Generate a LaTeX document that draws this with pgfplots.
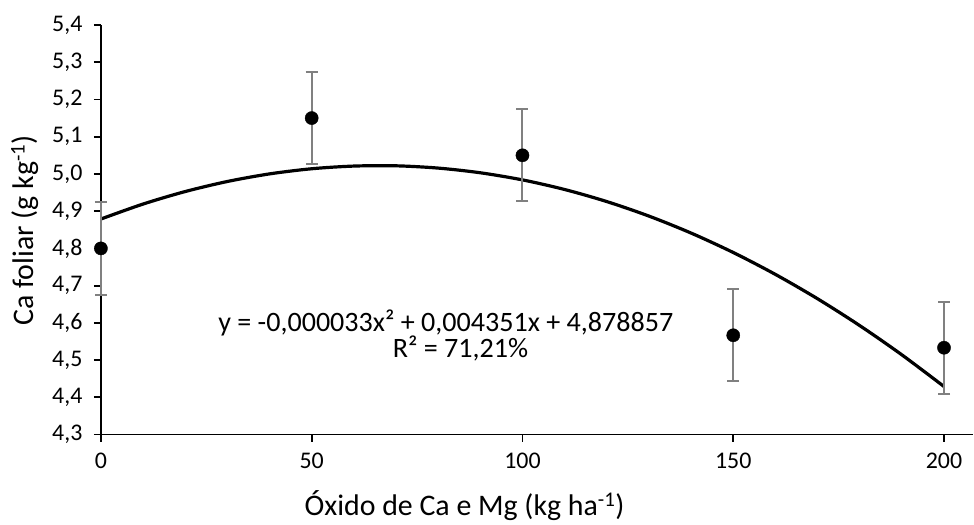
\documentclass[border=0pt]{standalone}
\usepackage{pgfplots}
\pgfplotsset{compat=1.18}
\usepackage{fontspec}
\setmainfont{Carlito}
\begin{document}
\begin{tikzpicture}
\begin{axis}[
  scale only axis,
  width=873bp, height=410bp,
  xmin=0, xmax=206.9, ymin=4.3, ymax=5.4,
  clip=false,
  axis x line=bottom, axis y line=left,
  axis line style={-, black, line width=1.8bp},
  xtick={0,50,100,150,200},
  ytick={4.3,4.4,4.5,4.6,4.7,4.8,4.9,5.0,5.1,5.2,5.3,5.4},
  tick align=outside,
  major tick length=7bp,
  tick style={black, line width=1.8bp},
  /pgf/number format/assume math mode=true,
  yticklabel style={/pgf/number format/fixed, /pgf/number format/fixed zerofill,
    /pgf/number format/precision=1, /pgf/number format/use comma,
    font=\fontsize{24}{28}\selectfont, xshift=-8bp},
  xticklabel style={font=\fontsize{24}{28}\selectfont, yshift=-8bp},
  xlabel={Óxido de Ca e Mg (kg ha\textsuperscript{-1})},
  ylabel={Ca foliar (g kg\textsuperscript{-1})},
  xlabel style={font=\fontsize{30}{35}\selectfont, at={(axis description cs:0.417,0)}, anchor=base, yshift=-81bp},
  ylabel style={font=\fontsize{30}{35}\selectfont, at={(axis description cs:-0.087,0.498)}, anchor=center},
]
% trendline (values of the fitted quadratic read at x = 0,10,...,200)
\addplot[black, line width=3.2bp, smooth, no marks] coordinates {
  (0,4.8789) (10,4.9191) (20,4.9527) (30,4.9797) (40,5.0001) (50,5.0139)
  (60,5.0211) (70,5.0218) (80,5.0157) (90,5.0031) (100,4.9840) (110,4.9582)
  (120,4.9258) (130,4.8868) (140,4.8412) (150,4.7890) (160,4.7302)
  (170,4.6648) (180,4.5928) (190,4.5142) (200,4.4291)
};
% data with error bars
\addplot[only marks, mark=*, mark size=6.6bp, black,
  error bars/.cd, y dir=both, y explicit,
  error bar style={line width=2bp, color=gray},
  error mark options={rotate=90, mark size=6bp, line width=2bp, gray}]
  coordinates {
  (0,4.80) +- (0,0.124)
  (50,5.15) +- (0,0.124)
  (100,5.05) +- (0,0.124)
  (150,4.5667) +- (0,0.124)
  (200,4.5333) +- (0,0.124)
};
\node[anchor=base, font=\fontsize{28.2}{33}\selectfont] at (axis cs:81.8,4.5764) {y = -0,000033x² + 0,004351x + 4,878857};
\node[anchor=base, font=\fontsize{28.2}{33}\selectfont] at (axis cs:85.3,4.5070) {R² = 71,21\%};
\end{axis}
\path[use as bounding box] (-101bp,-90bp) rectangle (873bp,435bp);
\end{tikzpicture}
\end{document}
